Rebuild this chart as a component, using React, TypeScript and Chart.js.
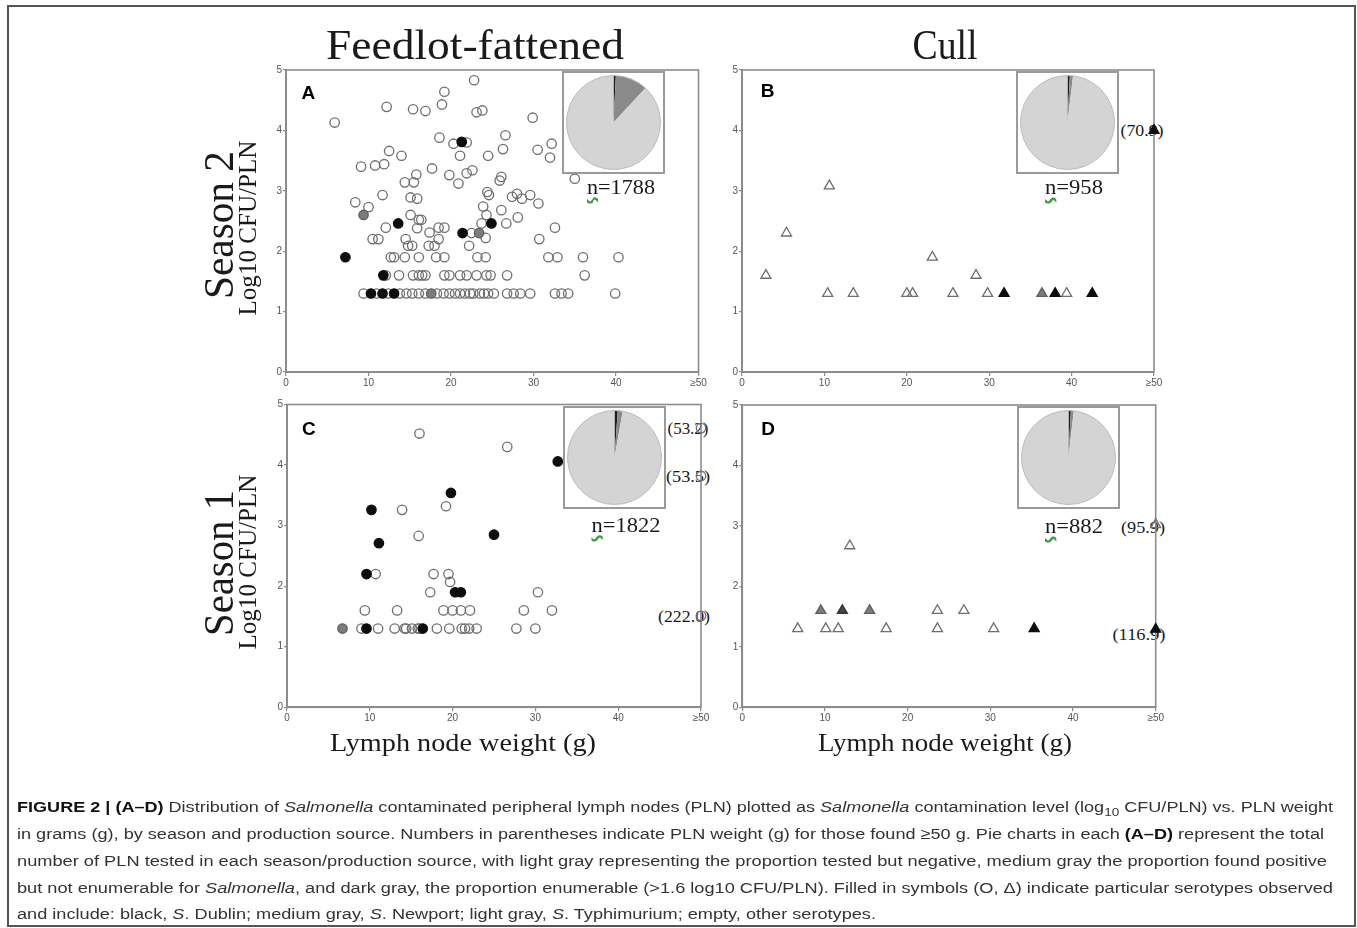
import React, { useEffect, useLayoutEffect, useRef } from "react";
import { Chart, registerables } from "chart.js";

Chart.register(...registerables);

type Pt = [number, number];

// ---------------- axis ticks ----------------
const xTickValues = [0, 10, 20, 30, 40, 50];
const xTickLabels = ["0", "10", "20", "30", "40", "≥50"];
const yTickValues = [0, 1, 2, 3, 4, 5];
const yTickLabels = ["0", "1", "2", "3", "4", "5"];

// ---------------- Panel A: Feedlot-fattened, Season 2 ----------------
const feedlotS2Other: Pt[] = [
  [5.9, 4.13], [12.2, 4.39], [15.4, 4.35], [16.9, 4.32], [18.9, 4.43], [19.2, 4.64], [22.8, 4.83],
  [23.1, 4.3], [23.8, 4.33], [29.9, 4.21], [18.6, 3.88], [20.3, 3.78], [21.9, 3.8], [26.6, 3.92],
  [12.5, 3.66], [14.0, 3.58], [21.1, 3.58], [24.5, 3.58], [26.3, 3.69], [30.5, 3.68], [32.2, 3.78],
  [32.0, 3.55], [9.1, 3.4], [10.8, 3.42], [11.9, 3.44], [17.7, 3.37], [15.8, 3.27], [14.4, 3.14],
  [15.5, 3.14], [19.8, 3.26], [20.9, 3.12], [21.9, 3.29], [22.6, 3.34], [26.1, 3.23], [25.9, 3.17],
  [35.0, 3.2], [11.7, 2.93], [8.4, 2.81], [10.0, 2.73], [15.1, 2.89], [15.9, 2.87], [24.4, 2.98],
  [24.6, 2.93], [27.4, 2.9], [28.0, 2.95], [28.6, 2.87], [29.6, 2.93], [30.6, 2.79], [15.1, 2.6],
  [16.1, 2.52], [16.4, 2.52], [15.9, 2.38], [12.1, 2.39], [17.4, 2.31], [18.5, 2.39], [19.2, 2.39],
  [23.9, 2.74], [26.1, 2.68], [24.3, 2.6], [28.1, 2.56], [23.7, 2.46], [26.7, 2.46], [32.6, 2.39],
  [22.5, 2.3], [24.2, 2.22], [30.7, 2.2], [10.5, 2.2], [11.2, 2.2], [14.5, 2.2], [18.5, 2.2],
  [14.8, 2.09], [15.3, 2.09], [17.3, 2.09], [18.0, 2.09], [22.2, 2.09],
  [12.7, 1.9], [13.1, 1.9], [14.4, 1.9], [16.1, 1.9], [18.2, 1.9], [19.2, 1.9], [23.2, 1.9],
  [24.2, 1.9], [31.8, 1.9], [32.9, 1.9], [36.0, 1.9], [40.3, 1.9],
  [12.1, 1.6], [13.7, 1.6], [15.4, 1.6], [16.1, 1.6], [16.5, 1.6], [16.9, 1.6], [19.2, 1.6],
  [19.8, 1.6], [21.1, 1.6], [21.9, 1.6], [23.1, 1.6], [24.3, 1.6], [24.8, 1.6], [26.8, 1.6], [36.2, 1.6],
  [9.4, 1.3], [11.0, 1.3], [12.4, 1.3], [13.8, 1.3], [14.6, 1.3], [15.3, 1.3], [16.1, 1.3], [16.9, 1.3],
  [18.3, 1.3], [19.1, 1.3], [19.8, 1.3], [20.5, 1.3], [21.1, 1.3], [21.7, 1.3], [22.3, 1.3], [22.7, 1.3],
  [23.5, 1.3], [24.0, 1.3], [24.5, 1.3], [25.2, 1.3], [26.8, 1.3], [27.6, 1.3], [28.4, 1.3], [29.6, 1.3],
  [32.6, 1.3], [33.4, 1.3], [34.2, 1.3], [39.9, 1.3],
];
const feedlotS2Dublin: Pt[] = [
  [21.3, 3.81], [13.6, 2.46], [24.9, 2.46], [21.4, 2.3], [7.2, 1.9], [11.8, 1.6],
  [10.3, 1.3], [11.7, 1.3], [13.1, 1.3],
];
const feedlotS2Newport: Pt[] = [[9.4, 2.6], [23.4, 2.3], [17.6, 1.3]];

// ---------------- Panel B: Cull, Season 2 ----------------
const cullS2Other: Pt[] = [
  [2.9, 1.6], [5.4, 2.3], [10.6, 3.08], [10.4, 1.3], [13.5, 1.3], [20.0, 1.3], [20.7, 1.3],
  [23.1, 1.9], [25.6, 1.3], [28.4, 1.6], [29.8, 1.3], [39.4, 1.3],
];
const cullS2Dublin: Pt[] = [[31.8, 1.3], [38.0, 1.3], [42.5, 1.3], [50, 4.0]];
const cullS2Newport: Pt[] = [[36.4, 1.3]];

// ---------------- Panel C: Feedlot-fattened, Season 1 ----------------
const feedlotS1Other: Pt[] = [
  [16.0, 4.52], [26.6, 4.3], [13.9, 3.26], [19.2, 3.32], [15.9, 2.83], [10.7, 2.2], [17.7, 2.2],
  [19.5, 2.2], [19.7, 2.07], [17.3, 1.9], [30.3, 1.9],
  [9.4, 1.6], [13.3, 1.6], [18.9, 1.6], [20.0, 1.6], [21.0, 1.6], [22.1, 1.6], [28.6, 1.6], [32.0, 1.6],
  [9.0, 1.3], [11.0, 1.3], [13.0, 1.3], [14.2, 1.3], [14.4, 1.3], [15.1, 1.3], [15.8, 1.3], [16.0, 1.3],
  [18.1, 1.3], [19.6, 1.3], [21.1, 1.3], [21.5, 1.3], [22.0, 1.3], [22.9, 1.3], [27.7, 1.3], [30.0, 1.3],
  [50, 4.61], [50, 3.82], [50, 1.51],
];
const feedlotS1Dublin: Pt[] = [
  [32.7, 4.06], [19.8, 3.54], [10.2, 3.26], [11.1, 2.71], [25.0, 2.85], [9.6, 2.2],
  [20.3, 1.9], [21.0, 1.9], [9.6, 1.3], [16.4, 1.3],
];
const feedlotS1Newport: Pt[] = [[6.7, 1.3]];

// ---------------- Panel D: Cull, Season 1 ----------------
const cullS1Other: Pt[] = [
  [6.7, 1.3], [10.1, 1.3], [11.6, 1.3], [13.0, 2.67], [17.4, 1.3], [23.6, 1.6], [23.6, 1.3],
  [26.8, 1.6], [30.4, 1.3], [50, 3.02],
];
const cullS1Dublin: Pt[] = [[35.3, 1.3], [50, 1.29]];
const cullS1Newport: Pt[] = [[9.5, 1.6], [15.4, 1.6]];
const cullS1DarkGray: Pt[] = [[12.1, 1.6]];

// ---------------- Pie insets (% of PLN tested) ----------------
const pieCategories = ["Enumerable (>1.6 log10 CFU/PLN)", "Positive, not enumerable", "Negative"];
const pieFeedlotS2 = [0.8, 11.1, 88.1];
const pieCullS2 = [0.8, 1.1, 98.1];
const pieFeedlotS1 = [1.1, 1.7, 97.2];
const pieCullS1 = [0.8, 1.0, 98.2];
const nFeedlotS2 = 1788;
const nCullS2 = 958;
const nFeedlotS1 = 1822;
const nCullS1 = 882;

// ---------------- layout ----------------
const W = 1357;
const H = 928;
const YW = 20;
const XH = 22;
const SERIF = '"Liberation Serif", "Times New Roman", serif';
const SANS = '"Liberation Sans", Arial, sans-serif';
const AXIS = "#8c8c8c";

type Area = { l: number; r: number; t: number; b: number };
type Series = { label: string; data: Pt[]; fill: string; stroke: string };

const framePlugin = {
  id: "frame",
  beforeDatasetsDraw(chart: any) {
    const { ctx, chartArea: a } = chart;
    ctx.save();
    ctx.strokeStyle = AXIS;
    ctx.lineWidth = 1.6;
    ctx.strokeRect(a.left, a.top, a.right - a.left, a.bottom - a.top);
    ctx.restore();
  },
};

function makeScatter(canvas: HTMLCanvasElement, area: Area, series: Series[], style: string) {
  const radius = style === "circle" ? 4.7 : 5.8;
  const tickFont = { family: SANS, size: 10 };
  return new Chart(canvas, {
    type: "scatter",
    data: {
      datasets: series.map((s) => ({
        label: s.label,
        data: s.data.map(([x, y]) => ({ x, y })),
        pointStyle: style,
        pointRadius: radius,
        pointBackgroundColor: s.fill,
        pointBorderColor: s.stroke,
        pointBorderWidth: 1.3,
        showLine: false,
        clip: false,
      })),
    },
    options: {
      responsive: false,
      animation: false,
      devicePixelRatio: 1,
      events: [],
      layout: {
        padding: { left: area.l - YW, right: W - area.r, top: area.t, bottom: H - area.b - XH },
      },
      plugins: { legend: { display: false }, tooltip: { enabled: false } },
      scales: {
        x: {
          type: "linear",
          min: 0,
          max: 50,
          afterBuildTicks: (s: any) => {
            s.ticks = xTickValues.map((v) => ({ value: v }));
          },
          afterFit: (s: any) => {
            s.height = XH;
          },
          ticks: {
            autoSkip: false,
            maxRotation: 0,
            padding: 1,
            color: "#555",
            font: tickFont,
            callback: (v: any) => xTickLabels[xTickValues.indexOf(Number(v))] ?? "",
          },
          grid: { drawOnChartArea: false, drawTicks: true, tickLength: 4, color: AXIS, lineWidth: 1.2 },
          border: { display: true, color: AXIS, width: 2 },
        },
        y: {
          type: "linear",
          min: 0,
          max: 5,
          afterBuildTicks: (s: any) => {
            s.ticks = yTickValues.map((v) => ({ value: v }));
          },
          afterFit: (s: any) => {
            s.width = YW;
          },
          ticks: {
            autoSkip: false,
            padding: 1,
            color: "#555",
            font: tickFont,
            callback: (v: any) => yTickLabels[yTickValues.indexOf(Number(v))] ?? "",
          },
          grid: { drawOnChartArea: false, drawTicks: true, tickLength: 3, color: AXIS, lineWidth: 1.2 },
          border: { display: true, color: AXIS, width: 2 },
        },
      },
    } as any,
    plugins: [framePlugin],
  } as any);
}

function ScatterPanel({ area, series, style }: { area: Area; series: Series[]; style: string }) {
  const ref = useRef<HTMLCanvasElement>(null);
  useEffect(() => {
    const c = makeScatter(ref.current!, area, series, style);
    return () => c.destroy();
  }, []);
  return <canvas ref={ref} width={W} height={H} style={{ position: "absolute", left: 0, top: 0 }} />;
}

const pieOutline = {
  id: "pieOutline",
  afterDatasetsDraw(chart: any) {
    const arc = chart.getDatasetMeta(0).data[0];
    if (!arc) return;
    const { ctx } = chart;
    ctx.save();
    ctx.beginPath();
    ctx.arc(arc.x, arc.y, arc.outerRadius, 0, Math.PI * 2);
    ctx.strokeStyle = "#bcbcbc";
    ctx.lineWidth = 1;
    ctx.stroke();
    ctx.restore();
  },
};

const BOX = 103;

function PieInset({ left, top, data }: { left: number; top: number; data: number[] }) {
  const ref = useRef<HTMLCanvasElement>(null);
  useEffect(() => {
    const c = new Chart(ref.current!, {
      type: "pie",
      data: {
        labels: pieCategories,
        datasets: [{ data, backgroundColor: ["#1e1e1e", "#8a8a8a", "#d4d4d4"], borderWidth: 0 }],
      },
      options: {
        responsive: false,
        animation: false,
        devicePixelRatio: 1,
        events: [],
        layout: { padding: 2.5 },
        plugins: { legend: { display: false }, tooltip: { enabled: false } },
      } as any,
      plugins: [pieOutline],
    } as any);
    return () => c.destroy();
  }, []);
  return (
    <div
      style={{
        position: "absolute",
        left,
        top,
        width: BOX,
        height: BOX,
        boxSizing: "border-box",
        border: "2px solid #9a9a9a",
        background: "#fff",
      }}
    >
      <canvas ref={ref} width={BOX - 4} height={BOX - 4} style={{ display: "block" }} />
    </div>
  );
}

let measurer: CanvasRenderingContext2D | null = null;
function textWidth(text: string, font: string) {
  if (!measurer) measurer = document.createElement("canvas").getContext("2d");
  measurer!.font = font;
  return measurer!.measureText(text).width;
}

function Txt(props: {
  text: string;
  cx: number;
  cy: number;
  size: number;
  family?: string;
  weight?: string;
  width?: number;
  rotate?: number;
  color?: string;
  children?: any;
}) {
  const { text, cx, cy, size, family = SERIF, weight = "normal", width, rotate = 0, color = "#1a1a1a", children } = props;
  const font = `${weight} ${size}px ${family}`;
  const sx = width ? width / textWidth(text, font) : 1;
  return (
    <div
      style={{
        position: "absolute",
        left: cx,
        top: cy,
        font,
        lineHeight: 1,
        whiteSpace: "nowrap",
        color,
        transform: `translate(-50%, -50%) rotate(${rotate}deg) scaleX(${sx})`,
      }}
    >
      {children ?? text}
    </div>
  );
}

function NLabel({ n, cx, cy, width }: { n: number; cx: number; cy: number; width: number }) {
  return (
    <Txt text={`n=${n}`} cx={cx} cy={cy} size={22} width={width}>
      <span
        style={{
          textDecorationLine: "underline",
          textDecorationStyle: "wavy",
          textDecorationColor: "#3c9a3c",
          textUnderlineOffset: "3px",
        }}
      >
        n
      </span>
      {`=${n}`}
    </Txt>
  );
}

function CaptionLine({ top, width, children }: { top: number; width: number; children: any }) {
  const ref = useRef<HTMLDivElement>(null);
  useLayoutEffect(() => {
    const el = ref.current;
    if (!el) return;
    el.style.transform = "none";
    const w = el.getBoundingClientRect().width;
    if (w > 0) el.style.transform = `scaleX(${width / w})`;
  }, [width]);
  return (
    <div
      ref={ref}
      style={{
        position: "absolute",
        left: 17,
        top,
        whiteSpace: "nowrap",
        transformOrigin: "0 0",
        font: `15.5px "Liberation Sans Narrow", "Liberation Sans", Arial, sans-serif`,
        lineHeight: "20px",
        color: "#333",
      }}
    >
      {children}
    </div>
  );
}

const OPEN = "rgba(255,255,255,0)";
const OPEN_STROKE = "#6e6e6e";
const BLACK = "#0d0d0d";
const GRAY = "#7c7c7c";
const GRAY_STROKE = "#5e5e5e";

function seriesOf(other: Pt[], dublin: Pt[], newport: Pt[], dark?: Pt[]): Series[] {
  const s: Series[] = [
    { label: "S. Dublin", data: dublin, fill: BLACK, stroke: BLACK },
    { label: "S. Newport", data: newport, fill: GRAY, stroke: GRAY_STROKE },
  ];
  if (dark) s.push({ label: "S. Dublin/Newport", data: dark, fill: "#454545", stroke: "#333" });
  s.push({ label: "Other serotypes", data: other, fill: OPEN, stroke: OPEN_STROKE });
  return s;
}

const areaA: Area = { l: 286, r: 698.5, t: 70, b: 372 };
const areaB: Area = { l: 742, r: 1154, t: 70, b: 372 };
const areaC: Area = { l: 287, r: 701, t: 404.5, b: 707.3 };
const areaD: Area = { l: 742.3, r: 1155.7, t: 405, b: 707.3 };

export default function App() {
  return (
    <div style={{ position: "absolute", left: 0, top: 0, width: W, height: H, background: "#fff", overflow: "hidden" }}>
      <div
        style={{
          position: "absolute",
          left: 7,
          top: 5,
          width: 1349,
          height: 922,
          boxSizing: "border-box",
          border: "2px solid #555",
        }}
      />

      {/* outlier weight labels (drawn beneath the markers) */}
      <Txt text="(70.9)" cx={1141.5} cy={130} size={17} width={43} />
      <Txt text="(53.2)" cx={688} cy={428} size={17} width={41} />
      <Txt text="(53.5)" cx={688} cy={476} size={17} width={44} />
      <Txt text="(222.0)" cx={684} cy={616} size={17} width={52} />
      <Txt text="(95.9)" cx={1143} cy={526.5} size={17} width={44} />
      <Txt text="(116.9)" cx={1139} cy={633.7} size={17} width={53} />

      <ScatterPanel area={areaA} series={seriesOf(feedlotS2Other, feedlotS2Dublin, feedlotS2Newport)} style="circle" />
      <ScatterPanel area={areaB} series={seriesOf(cullS2Other, cullS2Dublin, cullS2Newport)} style="triangle" />
      <ScatterPanel area={areaC} series={seriesOf(feedlotS1Other, feedlotS1Dublin, feedlotS1Newport)} style="circle" />
      <ScatterPanel
        area={areaD}
        series={seriesOf(cullS1Other, cullS1Dublin, cullS1Newport, cullS1DarkGray)}
        style="triangle"
      />

      <PieInset left={562} top={71} data={pieFeedlotS2} />
      <PieInset left={1016} top={71} data={pieCullS2} />
      <PieInset left={563} top={405.5} data={pieFeedlotS1} />
      <PieInset left={1017} top={406} data={pieCullS1} />

      <NLabel n={nFeedlotS2} cx={621} cy={186.5} width={68} />
      <NLabel n={nCullS2} cx={1074} cy={186.5} width={58} />
      <NLabel n={nFeedlotS1} cx={626} cy={524.5} width={69} />
      <NLabel n={nCullS1} cx={1074} cy={525.5} width={58} />

      {/* panel letters */}
      <Txt text="A" cx={308.3} cy={91.7} size={19} family={SANS} weight="bold" color="#000" />
      <Txt text="B" cx={767.7} cy={90.3} size={19} family={SANS} weight="bold" color="#000" />
      <Txt text="C" cx={308.8} cy={427.8} size={19} family={SANS} weight="bold" color="#000" />
      <Txt text="D" cx={768} cy={427.8} size={19} family={SANS} weight="bold" color="#000" />

      {/* column / row titles */}
      <Txt text="Feedlot-fattened" cx={475} cy={45} size={42} width={298} />
      <Txt text="Cull" cx={945} cy={45} size={42} width={65} />
      <Txt text="Season 2" cx={219} cy={225} size={42} width={148} rotate={-90} />
      <Txt text="Log10 CFU/PLN" cx={247} cy={228} size={25} width={175} rotate={-90} />
      <Txt text="Season 1" cx={219} cy={563} size={42} width={146} rotate={-90} />
      <Txt text="Log10 CFU/PLN" cx={247} cy={562} size={25} width={175} rotate={-90} />
      <Txt text="Lymph node weight (g)" cx={463} cy={741.5} size={25} width={266} />
      <Txt text="Lymph node weight (g)" cx={945} cy={741.5} size={25} width={254} />

      {/* caption */}
      <CaptionLine top={797} width={1316}>
        <b style={{ color: "#111" }}>FIGURE 2 | (A–D)</b> Distribution of <i>Salmonella</i> contaminated peripheral
        lymph nodes (PLN) plotted as <i>Salmonella</i> contamination level (log
        <sub style={{ fontSize: "0.75em" }}>10</sub> CFU/PLN) vs. PLN weight
      </CaptionLine>
      <CaptionLine top={824} width={1307}>
        in grams (g), by season and production source. Numbers in parentheses indicate PLN weight (g) for those found
        ≥50 g. Pie charts in each <b style={{ color: "#111" }}>(A–D)</b> represent the total
      </CaptionLine>
      <CaptionLine top={851} width={1310}>
        number of PLN tested in each season/production source, with light gray representing the proportion tested but
        negative, medium gray the proportion found positive
      </CaptionLine>
      <CaptionLine top={878} width={1316}>
        but not enumerable for <i>Salmonella</i>, and dark gray, the proportion enumerable (&gt;1.6 log10 CFU/PLN).
        Filled in symbols (O, Δ) indicate particular serotypes observed
      </CaptionLine>
      <CaptionLine top={904} width={859}>
        and include: black, <i>S</i>. Dublin; medium gray, <i>S</i>. Newport; light gray, <i>S</i>. Typhimurium;
        empty, other serotypes.
      </CaptionLine>
    </div>
  );
}
